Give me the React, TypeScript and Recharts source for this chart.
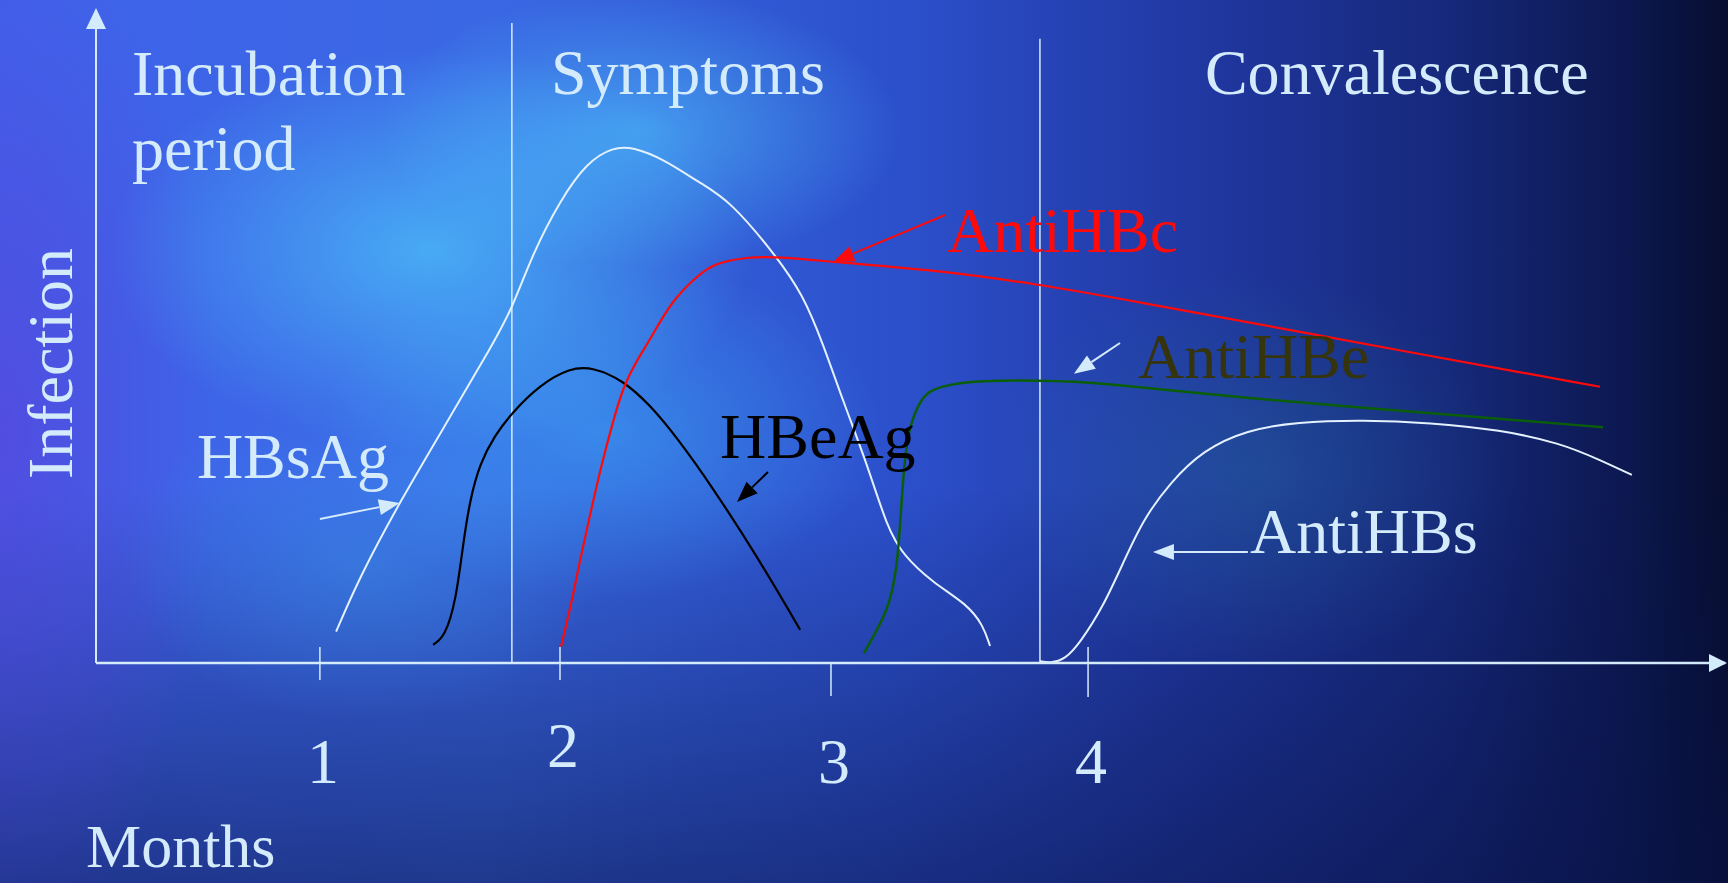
import { LineChart, Line, XAxis, YAxis, ReferenceLine, ReferenceDot } from 'recharts';

const SERIF = '"Liberation Serif", "Times New Roman", serif';
const PALE = '#d4ebfc';

// x = months since exposure, y = relative level (0..100). The slide's ticks are not evenly spaced.
const monthTicks = [1.02, 1.953, 3.006, 4.005];
const monthLabels = ['1', '2', '3', '4'];

const hbsAg: [number, number][] = [
  [1.083, 4.8], [1.176, 13.3], [1.331, 24.7], [1.514, 36.9], [1.693, 48.9], [1.766, 54.2],
  [1.848, 62.8], [1.953, 70.8], [2.058, 76.7], [2.159, 79.0], [2.237, 79.0], [2.353, 77.2],
  [2.497, 73.5], [2.614, 70.8], [2.796, 62.2], [2.897, 56.4], [2.975, 48.9], [3.053, 40.1],
  [3.146, 30.5], [3.224, 20.8], [3.286, 16.5], [3.402, 12.3], [3.535, 9.0], [3.597, 5.8], [3.624, 2.6],
];

const hbeAg: [number, number][] = [
  [1.460, 2.8], [1.506, 4.0], [1.549, 9.6], [1.576, 18.1], [1.603, 25.0], [1.642, 30.6],
  [1.700, 34.9], [1.766, 38.3], [1.875, 42.6], [1.992, 45.2], [2.081, 45.3], [2.198, 43.3],
  [2.303, 39.5], [2.408, 34.5], [2.544, 27.0], [2.718, 16.4], [2.886, 5.1],
];

const antiHBc: [number, number][] = [
  [1.957, 2.5], [2.000, 9.6], [2.031, 15.8], [2.070, 22.7], [2.112, 30.0], [2.155, 36.4],
  [2.198, 42.3], [2.252, 46.4], [2.303, 49.5], [2.388, 55.6], [2.497, 59.6], [2.548, 61.1],
  [2.680, 62.2], [2.808, 62.2], [3.014, 61.4], [3.457, 60.0], [3.818, 57.9], [4.051, 56.4],
  [5.334, 47.0], [5.994, 42.3],
];

const antiHBe: [number, number][] = [
  [3.134, 1.5], [3.196, 5.8], [3.239, 9.6], [3.266, 15.8], [3.278, 23.4], [3.290, 30.0],
  [3.305, 34.9], [3.325, 37.7], [3.360, 40.6], [3.395, 41.8], [3.468, 42.7], [3.585, 43.2],
  [3.810, 43.3], [4.051, 43.0], [4.556, 40.7], [5.334, 38.3], [6.006, 36.1],
];

const antiHBs: [number, number][] = [
  [3.818, 0.3], [3.857, 0], [3.915, 0.5], [3.974, 3.1], [4.063, 8.6], [4.141, 15.3],
  [4.218, 21.9], [4.323, 27.6], [4.452, 32.6], [4.622, 35.7], [4.817, 36.9], [5.073, 37.2],
  [5.334, 36.8], [5.606, 35.7], [5.839, 33.7], [5.994, 31.1], [6.118, 28.8],
];

// phase boundaries (month) and the height their divider lines reach
const phaseBreaks: [number, number][] = [[1.766, 98.0], [3.818, 95.6]];

const captions = [
  { text: 'Incubation', month: 0.29, level: 87.0, color: PALE },
  { text: 'period', month: 0.29, level: 75.5, color: PALE },
  { text: 'Symptoms', month: 1.918, level: 87.1, color: PALE },
  { text: 'Convalescence', month: 4.459, level: 87.1, color: PALE },
  { text: 'HBsAg', month: 0.542, level: 28.3, color: PALE },
  { text: 'AntiHBc', month: 3.457, level: 62.9, color: '#ff0a0a' },
  { text: 'HBeAg', month: 2.575, level: 31.4, color: '#000000' },
  { text: 'AntiHBe', month: 4.199, level: 43.6, color: '#36340c' },
  { text: 'AntiHBs', month: 4.634, level: 16.8, color: PALE },
];

// pointer arrows: tail -> tip
const pointers = [
  { from: [1.020, 22.05], to: [1.331, 24.5], color: PALE },
  { from: [3.449, 68.6], to: [3.014, 61.4], color: '#ff0a0a' },
  { from: [2.761, 29.25], to: [2.641, 24.65], color: '#000000' },
  { from: [4.129, 49.0], to: [3.950, 44.3], color: PALE },
  { from: [4.626, 17.0], to: [4.257, 17.0], color: PALE },
];

const toPoints = (pts: [number, number][]) => pts.map(([month, level]) => ({ month, level }));

const tickLayout = [
  { up: 16, down: 17, base: 120 },
  { up: 16, down: 17, base: 104 },
  { up: 0, down: 33, base: 120 },
  { up: 16, down: 34, base: 120 },
];

function MonthTick(props: any) {
  const { x, y, payload } = props;
  const i = monthTicks.indexOf(payload.value);
  const s = tickLayout[i] ?? tickLayout[0];
  return (
    <g>
      <line x1={x} x2={x} y1={y - s.up} y2={y + s.down} stroke={PALE} strokeWidth={1.5} />
      <text x={x + 3} y={y + s.base} textAnchor="middle" fill={PALE} fontFamily={SERIF} fontSize={64}>
        {monthLabels[i]}
      </text>
    </g>
  );
}

function arrowShape(color: string) {
  return (p: any) => {
    const { x1, y1, x2, y2 } = p;
    const a = Math.atan2(y2 - y1, x2 - x1);
    const len = 21;
    const half = 8;
    const bx = x2 - len * Math.cos(a);
    const by = y2 - len * Math.sin(a);
    const nx = -Math.sin(a) * half;
    const ny = Math.cos(a) * half;
    return (
      <g>
        <line x1={x1} y1={y1} x2={bx} y2={by} stroke={color} strokeWidth={2} />
        <polygon points={`${x2},${y2} ${bx + nx},${by + ny} ${bx - nx},${by - ny}`} fill={color} />
      </g>
    );
  };
}

const background = [
  'radial-gradient(ellipse 320px 200px at 430px 250px, rgba(80,215,255,0.6), transparent)',
  'radial-gradient(ellipse 260px 140px at 640px 130px, rgba(80,205,255,0.55), transparent)',
  'radial-gradient(ellipse 280px 170px at 600px 430px, rgba(60,185,250,0.45), transparent)',
  'radial-gradient(ellipse 240px 160px at 360px 560px, rgba(60,165,240,0.35), transparent)',
  'radial-gradient(ellipse 260px 200px at 1250px 470px, rgba(40,140,150,0.25), transparent)',
  'radial-gradient(ellipse 220px 520px at 0px 430px, rgba(95,60,215,0.55), transparent)',
  'linear-gradient(180deg, rgba(0,0,0,0) 55%, rgba(8,18,70,0.55) 100%)',
  'linear-gradient(90deg, #3f62ea 0%, #3a68e4 28%, #2c50cc 52%, #2037a0 70%, #16287a 84%, #0c1850 94%, #070e30 100%)',
].join(', ');

export default function App() {
  return (
    <div style={{ position: 'absolute', left: 0, top: 0, width: 1728, height: 883, background }}>
      <LineChart width={1728} height={883} margin={{ top: 10, right: 3, bottom: 190, left: 66 }}>
        <XAxis
          type="number"
          dataKey="month"
          domain={[0.15, 6.48]}
          ticks={monthTicks}
          interval={0}
          height={30}
          tickSize={0}
          tickMargin={0}
          tickLine={false}
          axisLine={{ stroke: PALE, strokeWidth: 2.5 }}
          tick={(p: any) => <MonthTick {...p} />}
          label={(p: any) => {
            const vb = p.viewBox ?? { x: 96, y: 663 };
            return (
              <text x={vb.x - 10} y={vb.y + 204} fill={PALE} fontFamily={SERIF} fontSize={62}>
                Months
              </text>
            );
          }}
        />
        <YAxis
          type="number"
          dataKey="level"
          domain={[0, 100]}
          width={30}
          tick={false}
          tickLine={false}
          axisLine={{ stroke: PALE, strokeWidth: 2 }}
          label={(p: any) => {
            const vb = p.viewBox ?? { x: 66, y: 10, width: 30, height: 653 };
            const cx = vb.x + vb.width - 24;
            const cy = vb.y + vb.height / 2 + 27;
            return (
              <text x={cx} y={cy} transform={`rotate(-90 ${cx} ${cy})`} textAnchor="middle" fill={PALE} fontFamily={SERIF} fontSize={64}>
                Infection
              </text>
            );
          }}
        />

        {phaseBreaks.map(([m, top]) => (
          <ReferenceLine key={m} segment={[{ x: m, y: 0 }, { x: m, y: top }]} stroke={PALE} strokeWidth={1.5} ifOverflow="visible" />
        ))}

        <Line data={toPoints(hbsAg)} dataKey="level" type="basis" stroke="#e4f1ff" strokeWidth={2} dot={false} isAnimationActive={false} />
        <Line data={toPoints(hbeAg)} dataKey="level" type="basis" stroke="#000000" strokeWidth={2.2} dot={false} isAnimationActive={false} />
        <Line data={toPoints(antiHBc)} dataKey="level" type="basis" stroke="#ff0a0a" strokeWidth={2.2} dot={false} isAnimationActive={false} />
        <Line data={toPoints(antiHBe)} dataKey="level" type="basis" stroke="#0a5e0a" strokeWidth={2.5} dot={false} isAnimationActive={false} />
        <Line data={toPoints(antiHBs)} dataKey="level" type="basis" stroke="#e4f1ff" strokeWidth={2} dot={false} isAnimationActive={false} />

        {pointers.map((a, i) => (
          <ReferenceLine
            key={i}
            segment={[{ x: a.from[0], y: a.from[1] }, { x: a.to[0], y: a.to[1] }]}
            ifOverflow="visible"
            shape={arrowShape(a.color)}
          />
        ))}

        {captions.map((c) => (
          <ReferenceDot
            key={c.text}
            x={c.month}
            y={c.level}
            r={0}
            ifOverflow="visible"
            shape={(p: any) => (
              <text x={p.cx} y={p.cy} fill={c.color} fontFamily={SERIF} fontSize={64}>
                {c.text}
              </text>
            )}
          />
        ))}

        {/* axis arrowheads */}
        <ReferenceDot
          x={6.48}
          y={0}
          r={0}
          ifOverflow="visible"
          shape={(p: any) => <polygon points={`${p.cx + 2},${p.cy} ${p.cx - 16},${p.cy - 9} ${p.cx - 16},${p.cy + 9}`} fill={PALE} />}
        />
        <ReferenceDot
          x={0.15}
          y={100}
          r={0}
          ifOverflow="visible"
          shape={(p: any) => <polygon points={`${p.cx},${p.cy - 2} ${p.cx - 10},${p.cy + 19} ${p.cx + 10},${p.cy + 19}`} fill={PALE} />}
        />
      </LineChart>
    </div>
  );
}
